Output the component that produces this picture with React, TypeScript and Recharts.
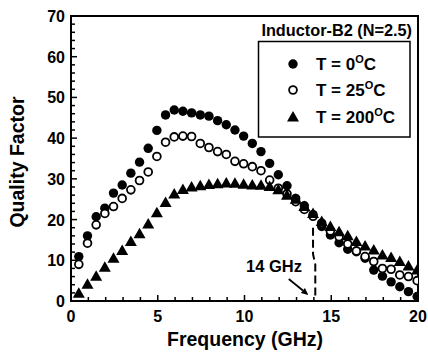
import React from "react";
import { ScatterChart, Scatter, XAxis, YAxis, ReferenceArea, ReferenceLine } from "recharts";

const FONT = '"Liberation Sans", Arial, Helvetica, sans-serif';

// measurement frequencies (GHz)
const FREQ = [
  0.45, 0.95, 1.45, 1.95, 2.45, 2.95, 3.45, 3.95, 4.45, 4.95,
  5.45, 5.95, 6.45, 6.95, 7.45, 7.95, 8.45, 8.95, 9.45, 9.95,
  10.45, 10.95, 11.45, 11.95, 12.45, 12.95, 13.45, 13.95, 14.45, 14.95,
  15.45, 15.95, 16.45, 16.95, 17.45, 17.95, 18.45, 18.95, 19.45, 19.95,
];

const Q_0C = [
  10.9, 16.0, 20.7, 22.8, 26.5, 28.5, 31.4, 34.1, 37.5, 41.9,
  45.7, 46.9, 46.6, 46.2, 45.7, 45.4, 44.3, 43.3, 42.0, 40.5,
  38.7, 36.7, 33.8, 31.0, 28.3, 25.2, 23.4, 21.2, 18.3, 16.2,
  14.3, 12.7, 12.1, 10.5, 7.6, 6.1, 4.7, 3.5, 2.3, 1.1,
];

const Q_25C = [
  9.0, 14.2, 18.7, 21.5, 23.2, 25.2, 27.3, 29.6, 31.7, 35.5,
  39.0, 40.3, 40.5, 40.4, 38.7, 37.7, 36.7, 36.0, 34.3, 33.7,
  33.0, 32.0, 29.7, 27.7, 26.3, 24.4, 22.5, 20.8, 19.1, 17.2,
  15.8, 14.0, 12.3, 10.9, 9.7, 8.0, 7.8, 6.4, 6.0, 5.0,
];

const Q_200C = [
  1.9, 4.1, 6.1, 8.3, 10.5, 12.4, 14.6, 16.5, 18.9, 21.7,
  24.2, 26.3, 27.4, 28.0, 28.3, 28.6, 28.8, 29.0, 28.9, 28.7,
  28.5, 28.4, 28.1, 27.3, 26.0, 25.0, 23.2, 21.5, 19.5, 18.3,
  17.0, 16.0, 14.6, 13.5, 12.5, 11.3, 10.7, 9.7, 8.6, 7.6,
];

const X_TICKS = [0, 1, 2, 3, 4, 5, 6, 7, 8, 9, 10, 11, 12, 13, 14, 15, 16, 17, 18, 19, 20];
const Y_TICKS = [0, 2, 4, 6, 8, 10, 12, 14, 16, 18, 20, 22, 24, 26, 28, 30, 32, 34, 36, 38, 40, 42, 44, 46, 48, 50, 52, 54, 56, 58, 60, 62, 64, 66, 68, 70];

// dashed 14 GHz marker (slightly kinked as in the original) and annotation arrow
const MARKER_LINE = [
  { f: 13.95, q: 18.0 },
  { f: 13.95, q: 11.5 },
  { f: 14.08, q: 9.0 },
  { f: 14.08, q: 0.8 },
];
const ARROW_FROM = { f: 12.55, q: 5.4 };
const ARROW_TO = { f: 13.68, q: 1.5 };

const toPoints = (vals: number[]) => FREQ.map((f, i) => ({ f, q: vals[i] }));

function XTick({ x, y, payload }: any) {
  const v = payload.value;
  const major = v % 5 === 0;
  return (
    <g>
      <line x1={x} x2={x} y1={y} y2={y - (major ? 6 : 4)} stroke="#000" strokeWidth={1.5} />
      {major && (
        <text x={x} y={y + 21} textAnchor="middle" fontFamily={FONT} fontWeight="bold" fontSize={16} fill="#000">
          {v}
        </text>
      )}
    </g>
  );
}

function YTick({ x, y, payload }: any) {
  const v = payload.value;
  const major = v % 10 === 0;
  return (
    <g>
      <line x1={x} x2={x + (major ? 6 : 4)} y1={y} y2={y} stroke="#000" strokeWidth={1.5} />
      {major && (
        <text x={x - 6} y={y + 6} textAnchor="end" fontFamily={FONT} fontWeight="bold" fontSize={16} fill="#000">
          {v}
        </text>
      )}
    </g>
  );
}

const filledDot = (p: any) => <circle cx={p.cx} cy={p.cy} r={4.7} fill="#000" />;
const openDot = (p: any) => <circle cx={p.cx} cy={p.cy} r={3.9} fill="#fff" stroke="#000" strokeWidth={1.8} />;
const triangle = (p: any) => (
  <polygon
    points={`${p.cx},${p.cy - 6} ${p.cx - 6},${p.cy + 4.5} ${p.cx + 6},${p.cy + 4.5}`}
    fill="#000"
  />
);

function Arrow(p: any) {
  const { x1, y1, x2, y2 } = p;
  const a = Math.atan2(y2 - y1, x2 - x1);
  const L = 7;
  const W = 3.2;
  const bx = x2 - L * Math.cos(a);
  const by = y2 - L * Math.sin(a);
  const px = -Math.sin(a) * W;
  const py = Math.cos(a) * W;
  return (
    <g>
      <line x1={x1} y1={y1} x2={bx} y2={by} stroke="#000" strokeWidth={1.8} />
      <polygon points={`${x2},${y2} ${bx + px},${by + py} ${bx - px},${by - py}`} fill="#000" />
    </g>
  );
}

function Deg({ x, y, temp }: { x: number; y: number; temp: string }) {
  return (
    <text x={x} y={y} fontFamily={FONT} fontWeight="bold" fontSize={17} fill="#000">
      {`T = ${temp}`}
      <tspan dy={-7} fontSize={11}>O</tspan>
      <tspan dy={7}>C</tspan>
    </text>
  );
}

export default function App() {
  return (
    <div style={{ position: "absolute", left: 0, top: 0, width: 428, height: 361, background: "#fff" }}>
      <ScatterChart width={428} height={361} margin={{ top: 16, right: 10, bottom: 20, left: 31 }}>
        <XAxis
          type="number"
          dataKey="f"
          domain={[0, 20]}
          ticks={X_TICKS}
          interval={0}
          tickSize={0}
          tickMargin={0}
          tickLine={false}
          tick={<XTick />}
          height={40}
          axisLine={{ stroke: "#000", strokeWidth: 2 }}
          allowDataOverflow
        />
        <YAxis
          type="number"
          dataKey="q"
          domain={[0, 70]}
          ticks={Y_TICKS}
          interval={0}
          tickSize={0}
          tickMargin={0}
          tickLine={false}
          tick={<YTick />}
          width={40}
          axisLine={{ stroke: "#000", strokeWidth: 2 }}
          allowDataOverflow
        />
        <ReferenceArea x1={0} x2={20} y1={0} y2={70} fill="none" stroke="#000" strokeWidth={2} fillOpacity={0} />
        <Scatter data={toPoints(Q_0C)} shape={filledDot} isAnimationActive={false} />
        <Scatter data={toPoints(Q_25C)} shape={openDot} isAnimationActive={false} />
        <Scatter data={toPoints(Q_200C)} shape={triangle} isAnimationActive={false} />
        <Scatter
          data={MARKER_LINE}
          shape={() => <g />}
          line={{ stroke: "#000", strokeWidth: 2, strokeDasharray: "8 4" }}
          isAnimationActive={false}
        />
        <ReferenceLine
          segment={[{ x: ARROW_FROM.f, y: ARROW_FROM.q }, { x: ARROW_TO.f, y: ARROW_TO.q }]}
          shape={Arrow}
          ifOverflow="visible"
        />
        <text x={274} y={272} textAnchor="middle" fontFamily={FONT} fontWeight="bold" fontSize={16.5} fill="#000">
          14 GHz
        </text>

        {/* legend */}
        <text x={412} y={36} textAnchor="end" fontFamily={FONT} fontWeight="bold" fontSize={16.3} fill="#000">
          Inductor-B2 (N=2.5)
        </text>
        <rect x={258.5} y={41.5} width={151.5} height={95.5} fill="#fff" stroke="#000" strokeWidth={1.5} />
        {filledDot({ cx: 293, cy: 64 })}
        <Deg x={316} y={70} temp="0" />
        {openDot({ cx: 293, cy: 90 })}
        <Deg x={316} y={96} temp="25" />
        {triangle({ cx: 293, cy: 117 })}
        <Deg x={316} y={122.5} temp="200" />

        {/* axis titles */}
        <text x={245} y={346} textAnchor="middle" fontFamily={FONT} fontWeight="bold" fontSize={19.5} fill="#000">
          Frequency (GHz)
        </text>
        <text
          x={24}
          y={162}
          textAnchor="middle"
          transform="rotate(-90, 24, 162)"
          fontFamily={FONT}
          fontWeight="bold"
          fontSize={19.5}
          fill="#000"
        >
          Quality Factor
        </text>
      </ScatterChart>
    </div>
  );
}
